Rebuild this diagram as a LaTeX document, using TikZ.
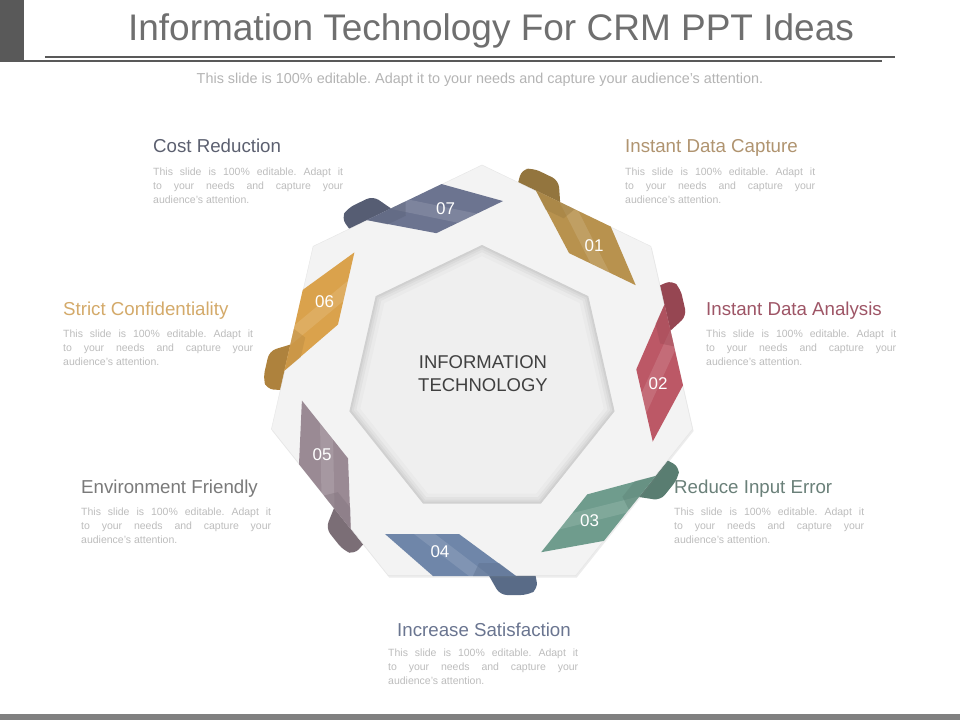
\documentclass[tikz,border=0pt]{standalone}
\usepackage{fontspec}
\setmainfont{Liberation Sans}
\frenchspacing
\usetikzlibrary{positioning, calc, shadows}
\definecolor{titlegray}{HTML}{6F6F6F}
\definecolor{bargray}{HTML}{595959}
\definecolor{footgray}{HTML}{808080}
\definecolor{subgray}{HTML}{B4B4B4}
\definecolor{bodygray}{HTML}{BDBDBD}
\definecolor{ringgray}{HTML}{F3F3F3}
\definecolor{innergray}{HTML}{EFEFEF}
\definecolor{gold}{HTML}{B8924E}
\definecolor{rose}{HTML}{BC5866}
\definecolor{teal}{HTML}{6F9C8D}
\definecolor{steel}{HTML}{6F86A9}
\definecolor{mauve}{HTML}{9A8A94}
\definecolor{amber}{HTML}{DAA24C}
\definecolor{slate}{HTML}{6C7490}
\definecolor{hgold}{HTML}{B09470}
\definecolor{hrose}{HTML}{9E5566}
\definecolor{hteal}{HTML}{6A8079}
\definecolor{hsteel}{HTML}{6A7590}
\definecolor{hmauve}{HTML}{7A7A7A}
\definecolor{hamber}{HTML}{D4AA6A}
\definecolor{hslate}{HTML}{5C6070}
\newcommand{\bodytext}{This slide is 100\% editable. Adapt it\linebreak to your needs and capture your\linebreak audience's attention.}
\tikzset{
  heading/.style={anchor=base west, inner sep=0pt, font=\fontsize{18.7}{22}\selectfont},
  bodyblock/.style={anchor=north west, inner sep=0pt, text width=190pt, align=justify, text=bodygray, font=\fontsize{10.5}{14}\selectfont},
  numlbl/.style={text=white, inner sep=0pt, font=\fontsize{17}{20}\selectfont},
}
\begin{document}
\begin{tikzpicture}[x=1pt,y=1pt]
\useasboundingbox (-482,-339) rectangle (478,381);
\fill[white] (-482,-339) rectangle (478,381);
% header
\fill[bargray] (-482,381) rectangle (-458,319);
\draw[bargray, line width=2.2pt] (-437,324) -- (413,324);
\draw[bargray, line width=2.2pt] (-458,320) -- (400,320);
\node[anchor=base, inner sep=0pt, text=titlegray, font=\fontsize{37}{40}\selectfont] (title) at (9,340) {Information Technology For CRM PPT Ideas};
\node[inner sep=0pt, text=subgray, font=\fontsize{14.4}{16}\selectfont] (subtitle) at (-2,301) {This slide is 100\% editable. Adapt it to your needs and capture your audience's attention.};
\fill[footgray] (-482,-333) rectangle (478,-339);
% heptagon corners
\foreach \k in {1,...,7} {
  \coordinate (o\k) at ({90-(\k-1)*360/7}:216);
  \coordinate (i\k) at ({90-(\k-1)*360/7}:136);
}
% ribbon backs
\foreach \n/\ang/\col in {01/154.29/gold,02/102.86/rose,03/51.43/teal,04/0/steel,05/-51.43/mauve,06/-102.86/amber,07/-154.29/slate} {
  \begin{scope}[rotate=\ang]
    \fill[\col!80!black, rounded corners=7pt] (2,-186) -- (52,-186) -- (56,-208) -- (46,-214) -- (18,-214) -- cycle;
  \end{scope}
}
% ring
\fill[ringgray, drop shadow={shadow xshift=1pt, shadow yshift=-2pt, opacity=.15}] (o1) -- (o2) -- (o3) -- (o4) -- (o5) -- (o6) -- (o7) -- cycle;
\draw[black!10] (o1) -- (o2) -- (o3) -- (o4) -- (o5) -- (o6) -- (o7) -- cycle;
\begin{scope}
  \clip (i1) -- (i2) -- (i3) -- (i4) -- (i5) -- (i6) -- (i7) -- cycle;
  \fill[innergray] (i1) -- (i2) -- (i3) -- (i4) -- (i5) -- (i6) -- (i7) -- cycle;
  \foreach \w/\o in {20/.02,13/.03,8/.035,4/.045} {
    \draw[black, opacity=\o, line width=\w pt, line join=round] (i1) -- (i2) -- (i3) -- (i4) -- (i5) -- (i6) -- (i7) -- cycle;
  }
\end{scope}
\node[align=center, inner sep=0pt, text=black!75, font=\fontsize{18.5}{23}\selectfont] (core) at (1,7) {INFORMATION\\TECHNOLOGY};
% ribbon fronts
\foreach \n/\ang/\col in {01/154.29/gold,02/102.86/rose,03/51.43/teal,04/0/steel,05/-51.43/mauve,06/-102.86/amber,07/-154.29/slate} {
  \begin{scope}[rotate=\ang]
    \fill[\col] (-97,-153) -- (-23,-153) -- (34,-195) -- (-49,-195) -- cycle;
    \fill[white, opacity=.12] (-68,-153) -- (-47,-153) -- (8,-195) -- (-13,-195) -- cycle;
    \fill[\col!85!black, opacity=.45] (17,-182) -- (34,-195) -- (-9,-195) -- (-3,-182) -- cycle;
    \node[numlbl] (num\n) at (-42,-171) {\n};
  \end{scope}
}
% text blocks
\node[heading, text=hslate] (costhead) at (-329,228) {Cost Reduction};
\node[bodyblock] (costbody) at (-329,213) {\bodytext};
\node[heading, text=hgold] (capthead) at (143,228) {Instant Data Capture};
\node[bodyblock] (captbody) at (143,213) {\bodytext};
\node[heading, text=hamber] (confhead) at (-419,66) {Strict Confidentiality};
\node[bodyblock] (confbody) at (-419,51) {\bodytext};
\node[heading, text=hrose] (analhead) at (224,66) {Instant Data Analysis};
\node[bodyblock] (analbody) at (224,51) {\bodytext};
\node[heading, text=hmauve] (envhead) at (-401,-112) {Environment Friendly};
\node[bodyblock] (envbody) at (-401,-127) {\bodytext};
\node[heading, text=hteal] (errhead) at (192,-112) {Reduce Input Error};
\node[bodyblock] (errbody) at (192,-127) {\bodytext};
\node[heading, anchor=base, text=hsteel] (sathead) at (2,-255) {Increase Satisfaction};
\node[bodyblock] (satbody) at (-94,-268) {\bodytext};
\end{tikzpicture}
\end{document}
